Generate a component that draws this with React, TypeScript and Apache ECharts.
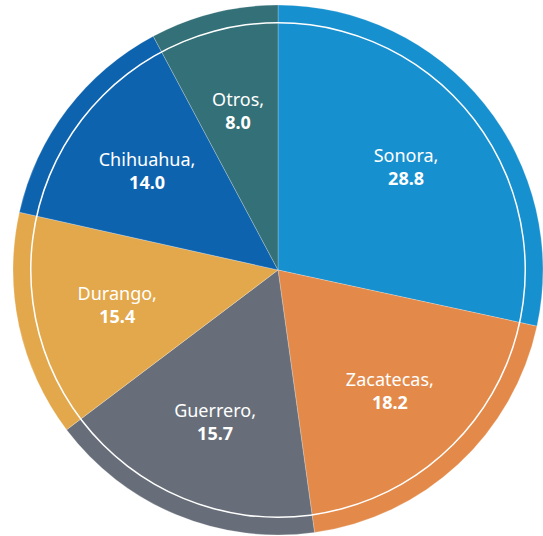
import React, { useEffect, useRef } from "react";
import * as echarts from "echarts";

const categories = ["Sonora", "Zacatecas", "Guerrero", "Durango", "Chihuahua", "Otros"];
// values printed in the labels
const labelValues = [28.8, 18.2, 15.7, 15.4, 14.0, 8.0];
// slice sizes as drawn in the picture (percent of the circle)
const sliceShares = [28.4, 19.4, 16.9, 13.8, 13.7, 7.8];
const colors = ["#1790CF", "#E38A4A", "#676E79", "#E3A84B", "#0E63AF", "#347077"];

export default function App() {
  const ref = useRef<HTMLDivElement>(null);
  useEffect(() => {
    document.body.style.margin = "0";
    const chart = echarts.init(ref.current!, undefined, { renderer: "svg" });
    const cx = 278;
    const cy = 270;
    chart.setOption({
      animation: false,
      series: [
        {
          type: "pie",
          center: [cx, cy],
          radius: [0, 265],
          startAngle: 90,
          clockwise: true,
          silent: true,
          itemStyle: { borderColor: "rgba(255,255,255,0.4)", borderWidth: 0.6 },
          label: { show: false },
          labelLine: { show: false },
          data: categories.map((c, i) => ({
            name: c,
            value: sliceShares[i],
            itemStyle: { color: colors[i] },
          })),
          z: 1,
        },
        {
          type: "pie",
          center: [cx, cy],
          radius: [246.5, 248],
          silent: true,
          itemStyle: { color: "#ffffff", borderWidth: 0 },
          label: { show: false },
          labelLine: { show: false },
          data: [{ value: 1, name: "ring" }],
          z: 2,
        },
        {
          type: "pie",
          center: [cx, cy],
          radius: [58, 265],
          startAngle: 90,
          clockwise: true,
          silent: true,
          itemStyle: { color: "transparent", borderWidth: 0 },
          label: {
            show: true,
            position: "inside",
            formatter: (p: any) =>
              `{n|${p.name},}\n{v|${labelValues[p.dataIndex].toFixed(1)}}`,
            rich: {
              n: {
                color: "#ffffff",
                fontFamily: "Noto Sans",
                fontSize: 18,
                lineHeight: 23,
                align: "center",
              },
              v: {
                color: "#ffffff",
                fontFamily: "Noto Sans",
                fontSize: 18,
                fontWeight: "bold",
                lineHeight: 23,
                align: "center",
              },
            },
          },
          labelLine: { show: false },
          data: categories.map((c, i) => ({ name: c, value: sliceShares[i] })),
          z: 3,
        },
      ],
    });
    return () => chart.dispose();
  }, []);
  return (
    <div
      ref={ref}
      style={{ position: "absolute", left: 0, top: 0, width: 543, height: 536 }}
    />
  );
}
